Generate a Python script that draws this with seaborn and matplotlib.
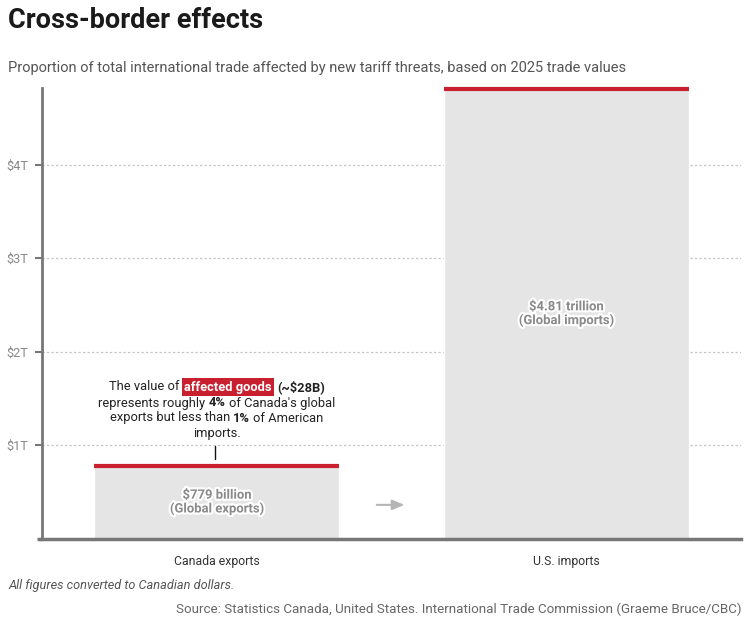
import matplotlib
matplotlib.use("Agg")
import matplotlib.pyplot as plt
import matplotlib.patheffects as pe
import seaborn as sns
import pandas as pd

# ---- data ----
categories = ["Canada exports", "U.S. imports"]
values_trillion = [0.779, 4.81]
bar_labels = ["$779 billion\n(Global exports)", "$4.81 trillion\n(Global imports)"]
ytick_values = [1, 2, 3, 4]
ytick_labels = ["$1T", "$2T", "$3T", "$4T"]

title = "Cross-border effects"
subtitle = "Proportion of total international trade affected by new tariff threats, based on 2025 trade values"
footnote = "All figures converted to Canadian dollars."
source = "Source: Statistics Canada, United States. International Trade Commission (Graeme Bruce/CBC)"

RED = "#c8202e"
BAR = "#e5e5e5"
FONT = ["Roboto", "DejaVu Sans"]

sns.set_theme(style="white")
plt.rcParams["font.family"] = FONT

W, H = 749, 623
fig = plt.figure(figsize=(W / 100, H / 100), dpi=100)
ax = fig.add_axes([42 / W, 1 - 538.5 / H, (741 - 42) / W, (538.5 - 88) / H])

df = pd.DataFrame({"cat": categories, "val": values_trillion})
sns.barplot(data=df, x="cat", y="val", color=BAR, width=0.7, ax=ax,
            saturation=1, zorder=2)

ax.set_xlim(-0.5, 1.5)
ax.set_ylim(0, 4.82)

# red top lines
for i, v in enumerate(values_trillion):
    ax.hlines(v, i - 0.35, i + 0.35, color=RED, lw=3, zorder=3, clip_on=False)

# bar value labels
for i, (v, lab) in enumerate(zip(values_trillion, bar_labels)):
    ax.text(i, v / 2, lab, ha="center", va="center", fontsize=9.4,
            fontweight="bold", color="#8a8a8a", linespacing=1.05, zorder=4,
            path_effects=[pe.withStroke(linewidth=3, foreground="white")])

# grid
ax.set_yticks(ytick_values)
ax.set_yticklabels(ytick_labels)
ax.yaxis.grid(True, color="#c4c4c4", linestyle=(0, (1.8, 1.8)), linewidth=0.9)
ax.set_axisbelow(True)
ax.xaxis.grid(False)

# spines
for s in ["top", "right"]:
    ax.spines[s].set_visible(False)
ax.spines["left"].set_color("#777777")
ax.spines["left"].set_linewidth(2)
ax.spines["bottom"].set_color("#777777")
ax.spines["bottom"].set_linewidth(2.5)
ax.spines["left"].set_zorder(5)
ax.spines["bottom"].set_zorder(5)
# small extension of the baseline to the left
ax.plot([-5 / 699, 0], [0, 0], transform=ax.transAxes, color="#777777",
        lw=2.5, clip_on=False, solid_capstyle="butt", zorder=5)

ax.tick_params(axis="y", which="major", left=True, length=5, width=1.5,
               color="#777777", labelsize=9.2, labelcolor="#888888", pad=5)
ax.tick_params(axis="x", bottom=False, labelsize=8.8, labelcolor="#333333", pad=6)
ax.set_xlabel("")
ax.set_ylabel("")

# arrow between bars
ax.annotate("", xy=(0.545, 0.36), xytext=(0.45, 0.36),
            arrowprops=dict(arrowstyle="-|>,head_length=0.6,head_width=0.25",
                            color="#b5b5b5", lw=1.5))

# annotation connector
ax.plot([-0.006, -0.006], [0.85, 0.99], color="#111111", lw=1, zorder=4)

# titles
fig.text(8 / W, 1 - 20 / H, title, fontsize=19.5, fontweight="bold",
         color="#1a1a1a", va="center", ha="left")
fig.text(8 / W, 1 - 68 / H, subtitle, fontsize=10.55, color="#555555",
         va="center", ha="left")
fig.text(8 / W, 1 - 586 / H, footnote, fontsize=9.2, color="#555555",
         style="italic", va="center", ha="left")
fig.text(741 / W, 1 - 609 / H, source, fontsize=9.6, color="#666666",
         va="center", ha="right")

# ---- rich-text annotation (piecewise) ----
fig.canvas.draw()
renderer = fig.canvas.get_renderer()

ANN_SIZE = 9.25
base = dict(fontsize=ANN_SIZE, color="#222222", va="center", ha="left")


def measure(s, **kw):
    t = fig.text(0, 0, s, **kw)
    w = t.get_window_extent(renderer).width
    t.remove()
    return w


space_w = measure("a a", **base) - measure("aa", **base)

ann_lines = [
    [("The value of", {}), ("affected goods", {"fontweight": "bold", "color": "white",
                                                "bbox": dict(boxstyle="square,pad=0.18",
                                                             fc=RED, ec="none")}),
     ("(~$28B)", {"fontweight": "bold"})],
    [("represents roughly", {}), ("4%", {"fontweight": "bold"}),
     ("of Canada's global", {})],
    [("exports but less than", {}), ("1%", {"fontweight": "bold"}),
     ("of American", {})],
    [("imports.", {})],
]
line_y = [387, 403, 418, 434]
center_x = ax.transData.transform((0, 0))[0]

for segs, yp in zip(ann_lines, line_y):
    widths = []
    for s, extra in segs:
        kw = dict(base)
        kw.update({k: v for k, v in extra.items() if k != "bbox"})
        widths.append(measure(s, **kw))
    gaps = []
    for s, extra in segs[:-1]:
        gaps.append(space_w * (1.6 if "bbox" in extra else 1.0))
    for j, (s, extra) in enumerate(segs[1:]):
        if "bbox" in extra:
            gaps[j] = space_w * 1.6
    total = sum(widths) + sum(gaps)
    x = center_x - total / 2
    for j, ((s, extra), w) in enumerate(zip(segs, widths)):
        kw = dict(base)
        kw.update(extra)
        fig.text(x / W, 1 - yp / H, s, **kw)
        if j < len(gaps):
            x += w + gaps[j]

fig.savefig("out.png", dpi=100)
